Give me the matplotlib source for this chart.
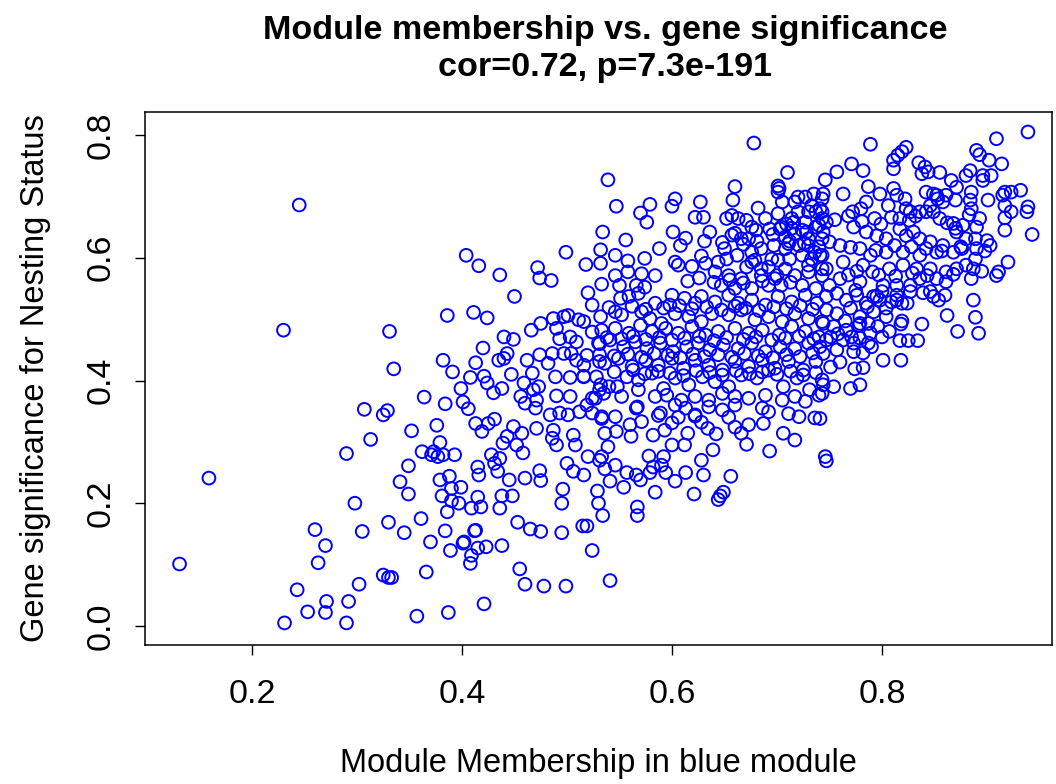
import matplotlib
matplotlib.use("Agg")
import matplotlib.pyplot as plt
import numpy as np

# Module membership (x) and gene significance (y), grouped by area of the plot
mm_low = [0.131, 0.159, 0.245, 0.230, 0.307, 0.313, 0.290, 0.298, 0.260, 0.305,
          0.270, 0.263, 0.302, 0.243, 0.271, 0.292, 0.253, 0.270, 0.231, 0.290]
gs_low = [0.101, 0.241, 0.686, 0.482, 0.353, 0.304, 0.281, 0.200, 0.157, 0.154,
          0.131, 0.103, 0.068, 0.059, 0.040, 0.040, 0.023, 0.022, 0.005, 0.005]

mm_bottom = [0.349, 0.341, 0.349, 0.330, 0.345, 0.361, 0.379, 0.388, 0.390, 0.399,
             0.381, 0.390, 0.397, 0.386, 0.409, 0.415, 0.418, 0.415, 0.416, 0.434,
             0.445, 0.438, 0.436, 0.448, 0.460, 0.474, 0.475, 0.496, 0.495, 0.453,
             0.465, 0.475, 0.495, 0.515, 0.519, 0.524, 0.384, 0.370, 0.389, 0.401,
             0.402, 0.412, 0.413, 0.415, 0.423, 0.438, 0.409, 0.408, 0.366, 0.325,
             0.330, 0.333, 0.455, 0.460, 0.478, 0.499, 0.421, 0.387, 0.357, 0.506,
             0.516]
gs_bottom = [0.261, 0.235, 0.215, 0.169, 0.152, 0.175, 0.238, 0.244, 0.224, 0.226,
             0.212, 0.204, 0.200, 0.186, 0.192, 0.210, 0.194, 0.259, 0.246, 0.252,
             0.238, 0.212, 0.192, 0.212, 0.241, 0.253, 0.237, 0.223, 0.200, 0.169,
             0.158, 0.154, 0.152, 0.163, 0.163, 0.123, 0.155, 0.137, 0.123, 0.135,
             0.137, 0.155, 0.156, 0.127, 0.129, 0.131, 0.115, 0.102, 0.088, 0.083,
             0.079, 0.079, 0.093, 0.068, 0.065, 0.065, 0.036, 0.022, 0.016, 0.252,
             0.246]

mm_mid_low = [0.541, 0.534, 0.567, 0.567, 0.530, 0.529, 0.541, 0.554, 0.557, 0.566,
              0.570, 0.579, 0.584, 0.594, 0.603, 0.613, 0.621, 0.630, 0.656, 0.644,
              0.646, 0.649, 0.536, 0.546, 0.582, 0.590, 0.747]
gs_mid_low = [0.074, 0.180, 0.194, 0.180, 0.200, 0.220, 0.236, 0.226, 0.250, 0.246,
              0.238, 0.250, 0.218, 0.250, 0.236, 0.250, 0.215, 0.246, 0.244, 0.206,
              0.212, 0.218, 0.256, 0.262, 0.259, 0.262, 0.269]

mm_core_low = [0.693, 0.746, 0.736, 0.717, 0.706, 0.687, 0.671, 0.666, 0.673, 0.639,
               0.628, 0.642, 0.634, 0.612, 0.615, 0.600, 0.592, 0.578, 0.533, 0.539,
               0.536, 0.533, 0.547, 0.561, 0.560, 0.571, 0.566, 0.582, 0.593, 0.587,
               0.606, 0.622, 0.654, 0.660, 0.628, 0.600]
gs_core_low = [0.285, 0.276, 0.339, 0.303, 0.314, 0.330, 0.296, 0.314, 0.328, 0.287,
               0.270, 0.313, 0.322, 0.295, 0.314, 0.295, 0.276, 0.277, 0.276, 0.292,
               0.314, 0.338, 0.317, 0.309, 0.328, 0.333, 0.355, 0.311, 0.319, 0.343,
               0.340, 0.342, 0.340, 0.324, 0.332, 0.331]

mm_core = [0.551, 0.559, 0.568, 0.584, 0.598, 0.600, 0.612, 0.622, 0.628, 0.641,
           0.654, 0.663, 0.676, 0.689, 0.701, 0.714, 0.727, 0.738,
           0.532, 0.546, 0.552, 0.571, 0.579, 0.590, 0.603, 0.616, 0.628, 0.638,
           0.654, 0.666, 0.679, 0.692, 0.705, 0.717, 0.730, 0.743,
           0.533, 0.546, 0.559, 0.570, 0.581, 0.594, 0.606, 0.619, 0.632, 0.644,
           0.660, 0.673, 0.686, 0.702, 0.714, 0.727, 0.740,
           0.530, 0.541, 0.554, 0.565, 0.576, 0.589, 0.601, 0.614, 0.625, 0.636,
           0.649, 0.663, 0.676, 0.689, 0.703, 0.717, 0.730,
           0.536, 0.549, 0.562, 0.575, 0.587, 0.600, 0.611, 0.622, 0.635, 0.648,
           0.660, 0.673, 0.686, 0.698, 0.711, 0.725, 0.737,
           0.532, 0.540, 0.548, 0.557, 0.568, 0.581, 0.592, 0.603, 0.616, 0.629,
           0.641, 0.654, 0.666, 0.681, 0.692, 0.706, 0.719, 0.731, 0.743,
           0.527, 0.535, 0.552, 0.568, 0.584, 0.595, 0.609, 0.622, 0.635, 0.648,
           0.660, 0.673, 0.689, 0.705, 0.717, 0.727, 0.740,
           0.533, 0.546, 0.567, 0.589, 0.603, 0.613, 0.622, 0.635, 0.648, 0.660,
           0.686, 0.692, 0.711, 0.721]
gs_core = [0.534, 0.537, 0.542, 0.526, 0.523, 0.539, 0.534, 0.526, 0.537, 0.528,
           0.539, 0.526, 0.531, 0.523, 0.537, 0.528, 0.539, 0.526,
           0.504, 0.512, 0.507, 0.512, 0.501, 0.493, 0.509, 0.504, 0.496, 0.509,
           0.507, 0.515, 0.499, 0.504, 0.496, 0.509, 0.501, 0.496,
           0.482, 0.485, 0.477, 0.490, 0.480, 0.485, 0.477, 0.488, 0.474, 0.480,
           0.485, 0.477, 0.482, 0.474, 0.488, 0.480, 0.471,
           0.461, 0.466, 0.455, 0.463, 0.452, 0.461, 0.447, 0.455, 0.461, 0.450,
           0.458, 0.452, 0.461, 0.447, 0.455, 0.452, 0.461,
           0.428, 0.436, 0.423, 0.433, 0.425, 0.436, 0.420, 0.433, 0.425, 0.417,
           0.431, 0.423, 0.433, 0.420, 0.431, 0.417, 0.431,
           0.393, 0.390, 0.390, 0.406, 0.401, 0.412, 0.387, 0.404, 0.393, 0.406,
           0.398, 0.390, 0.409, 0.404, 0.417, 0.390, 0.404, 0.385, 0.401,
           0.371, 0.379, 0.374, 0.385, 0.374, 0.376, 0.368, 0.374, 0.368, 0.379,
           0.374, 0.371, 0.376, 0.368, 0.374, 0.366, 0.376,
           0.341, 0.341, 0.357, 0.347, 0.360, 0.355, 0.344, 0.357, 0.352, 0.360,
           0.355, 0.349, 0.346, 0.341]

# second pass through the densest band of the cloud
mm_core_fill = [0.540, 0.562, 0.575, 0.592, 0.607, 0.619, 0.633, 0.647, 0.660, 0.670,
                0.683, 0.697, 0.709, 0.722, 0.734,
                0.538, 0.552, 0.563, 0.575, 0.588, 0.600, 0.612, 0.626, 0.640, 0.652,
                0.668, 0.680, 0.695, 0.708, 0.721, 0.735,
                0.531, 0.545, 0.558, 0.571, 0.583, 0.596, 0.608, 0.620, 0.631, 0.644,
                0.657, 0.669, 0.682, 0.696, 0.709, 0.722, 0.734,
                0.545, 0.563, 0.574, 0.587, 0.598, 0.611, 0.623, 0.636, 0.648, 0.661,
                0.674, 0.686, 0.700, 0.713, 0.725, 0.737]
gs_core_fill = [0.519, 0.521, 0.516, 0.518, 0.522, 0.517, 0.520, 0.515, 0.521, 0.518,
                0.514, 0.520, 0.517, 0.522, 0.516,
                0.470, 0.468, 0.472, 0.467, 0.470, 0.466, 0.469, 0.472, 0.465, 0.470,
                0.467, 0.471, 0.466, 0.469, 0.472, 0.468,
                0.442, 0.440, 0.443, 0.438, 0.444, 0.441, 0.437, 0.443, 0.439, 0.442,
                0.438, 0.444, 0.440, 0.437, 0.442, 0.439, 0.445,
                0.414, 0.417, 0.411, 0.415, 0.412, 0.408, 0.416, 0.413, 0.409, 0.416,
                0.411, 0.414, 0.410, 0.415, 0.409, 0.413]

mm_right_mid = [0.887, 0.862, 0.889, 0.872, 0.892, 0.838, 0.819, 0.818, 0.804, 0.807,
                0.817, 0.825, 0.834, 0.801, 0.818, 0.774, 0.782, 0.751, 0.754, 0.770,
                0.779, 0.744, 0.743, 0.741, 0.773, 0.782, 0.800, 0.787, 0.789, 0.779,
                0.771, 0.796, 0.787, 0.779, 0.758, 0.744, 0.747, 0.741,
                0.854, 0.849, 0.860, 0.846, 0.839, 0.827, 0.824, 0.814, 0.809, 0.819,
                0.804, 0.798, 0.792,
                0.747, 0.757, 0.766, 0.776, 0.785, 0.795, 0.814, 0.747, 0.757, 0.770,
                0.779, 0.792, 0.744, 0.754, 0.766, 0.778, 0.751, 0.763, 0.773, 0.757,
                0.760, 0.790, 0.765, 0.786, 0.800, 0.775]
gs_right_mid = [0.531, 0.506, 0.503, 0.480, 0.477, 0.492, 0.497, 0.492, 0.504, 0.480,
                0.465, 0.465, 0.465, 0.433, 0.433, 0.419, 0.421, 0.422, 0.390, 0.387,
                0.393, 0.393, 0.379, 0.338, 0.447, 0.445, 0.471, 0.461, 0.477, 0.469,
                0.471, 0.488, 0.493, 0.493, 0.476, 0.444, 0.466, 0.455,
                0.531, 0.537, 0.539, 0.545, 0.543, 0.545, 0.526, 0.531, 0.528, 0.526,
                0.518, 0.531, 0.537,
                0.537, 0.542, 0.531, 0.539, 0.526, 0.537, 0.539, 0.515, 0.509, 0.518,
                0.504, 0.512, 0.493, 0.488, 0.482, 0.490, 0.471, 0.466, 0.461, 0.450,
                0.430, 0.455, 0.497, 0.520, 0.545, 0.547]

mm_right_top = [0.939, 0.909, 0.789, 0.823, 0.819, 0.815, 0.811, 0.890, 0.893, 0.902,
                0.914, 0.771, 0.782, 0.757, 0.746, 0.811, 0.835, 0.841, 0.844, 0.838,
                0.855, 0.884, 0.880, 0.896, 0.904, 0.896, 0.866, 0.871, 0.932, 0.923,
                0.917, 0.915, 0.901, 0.885, 0.884, 0.885, 0.939, 0.938, 0.923, 0.917,
                0.917, 0.917, 0.943, 0.900, 0.903, 0.889, 0.890, 0.889, 0.920, 0.911,
                0.909, 0.887, 0.885, 0.893, 0.890, 0.877, 0.871, 0.880, 0.876, 0.870,
                0.868, 0.852, 0.853, 0.849, 0.858, 0.842, 0.846, 0.861, 0.870, 0.836,
                0.842, 0.849, 0.827, 0.822, 0.823, 0.814, 0.811, 0.806, 0.817, 0.809,
                0.787, 0.798, 0.785, 0.780, 0.772, 0.793, 0.763, 0.744, 0.743, 0.747,
                0.744]
gs_right_top = [0.805, 0.794, 0.785, 0.780, 0.773, 0.767, 0.759, 0.775, 0.768, 0.759,
                0.753, 0.753, 0.742, 0.740, 0.727, 0.745, 0.755, 0.748, 0.740, 0.737,
                0.739, 0.742, 0.734, 0.734, 0.734, 0.726, 0.726, 0.715, 0.710, 0.707,
                0.707, 0.702, 0.694, 0.707, 0.694, 0.680, 0.683, 0.675, 0.675, 0.685,
                0.665, 0.645, 0.638, 0.628, 0.620, 0.631, 0.615, 0.598, 0.593, 0.577,
                0.571, 0.582, 0.566, 0.664, 0.650, 0.653, 0.642, 0.631, 0.615, 0.648,
                0.656, 0.702, 0.696, 0.704, 0.691, 0.707, 0.685, 0.702, 0.694, 0.675,
                0.675, 0.675, 0.675, 0.696, 0.680, 0.702, 0.713, 0.685, 0.664, 0.666,
                0.716, 0.704, 0.691, 0.680, 0.675, 0.664, 0.704, 0.704, 0.675, 0.658,
                0.642]

mm_right_core = [0.773, 0.785, 0.795, 0.804, 0.817, 0.823, 0.830, 0.836, 0.846, 0.858,
                 0.868, 0.852, 0.836, 0.820, 0.804, 0.789, 0.779, 0.760, 0.750, 0.763,
                 0.782, 0.791, 0.807, 0.820, 0.833, 0.846, 0.861, 0.871, 0.880, 0.852,
                 0.836, 0.861, 0.827, 0.814, 0.801, 0.779, 0.760, 0.750, 0.747, 0.741,
                 0.755, 0.768, 0.781, 0.799, 0.826, 0.832, 0.855, 0.862, 0.883,
                 0.770, 0.794, 0.812, 0.828, 0.842, 0.857, 0.875, 0.898,
                 0.768, 0.776, 0.797, 0.813, 0.829, 0.843, 0.868, 0.895]
gs_right_core = [0.650, 0.642, 0.636, 0.631, 0.647, 0.636, 0.642, 0.631, 0.626, 0.620,
                 0.609, 0.609, 0.604, 0.609, 0.609, 0.604, 0.615, 0.620, 0.626, 0.593,
                 0.588, 0.577, 0.582, 0.588, 0.582, 0.582, 0.577, 0.582, 0.588, 0.566,
                 0.566, 0.561, 0.555, 0.555, 0.555, 0.561, 0.566, 0.555, 0.582, 0.604,
                 0.662, 0.668, 0.659, 0.655, 0.661, 0.668, 0.664, 0.657, 0.670,
                 0.617, 0.612, 0.620, 0.618, 0.615, 0.611, 0.618, 0.611,
                 0.572, 0.578, 0.572, 0.570, 0.575, 0.571, 0.573, 0.578]

mm_upper = [0.678, 0.710, 0.539, 0.660, 0.658, 0.701, 0.701, 0.702,
            0.547, 0.570, 0.579, 0.576, 0.603, 0.600, 0.627, 0.622, 0.630, 0.682,
            0.534, 0.532, 0.532, 0.533, 0.556, 0.546, 0.558, 0.574, 0.588, 0.601,
            0.613, 0.608, 0.603, 0.606, 0.619, 0.631, 0.636, 0.628, 0.632, 0.584,
            0.571, 0.558, 0.546, 0.550, 0.566, 0.574]
gs_upper = [0.787, 0.739, 0.727, 0.716, 0.694, 0.717, 0.707, 0.713,
            0.684, 0.673, 0.687, 0.658, 0.696, 0.684, 0.691, 0.666, 0.666, 0.681,
            0.642, 0.613, 0.591, 0.557, 0.629, 0.604, 0.595, 0.599, 0.615, 0.642,
            0.632, 0.620, 0.593, 0.588, 0.586, 0.627, 0.642, 0.603, 0.591, 0.571,
            0.574, 0.577, 0.571, 0.555, 0.555, 0.552]

mm_upper_core = [0.652, 0.657, 0.663, 0.671, 0.676, 0.689, 0.693, 0.701, 0.709, 0.717,
                 0.727, 0.733, 0.737, 0.743, 0.720, 0.716, 0.704, 0.708, 0.711, 0.724,
                 0.730, 0.737, 0.666, 0.673, 0.657, 0.650, 0.662, 0.676, 0.685, 0.679,
                 0.671, 0.685, 0.695, 0.701, 0.712, 0.724, 0.733, 0.743, 0.652, 0.644,
                 0.641, 0.654, 0.666, 0.685, 0.700, 0.717, 0.730, 0.743, 0.647, 0.660,
                 0.676, 0.692, 0.704, 0.724, 0.737,
                 0.705, 0.720, 0.735, 0.743, 0.730, 0.741, 0.714, 0.727, 0.740, 0.703,
                 0.717, 0.730, 0.743, 0.708, 0.721, 0.736, 0.676, 0.692, 0.708, 0.730,
                 0.743,
                 0.648, 0.668, 0.681, 0.697, 0.712, 0.726, 0.740,
                 0.660, 0.680, 0.696, 0.714, 0.728,
                 0.615, 0.626, 0.640, 0.655, 0.668, 0.686, 0.698, 0.713]
gs_upper_core = [0.664, 0.669, 0.664, 0.661, 0.650, 0.664, 0.647, 0.672, 0.655, 0.691,
                 0.699, 0.685, 0.675, 0.664, 0.675, 0.658, 0.650, 0.634, 0.623, 0.645,
                 0.631, 0.650, 0.631, 0.631, 0.637, 0.615, 0.604, 0.609, 0.615, 0.596,
                 0.585, 0.582, 0.598, 0.596, 0.598, 0.604, 0.598, 0.604, 0.598, 0.593,
                 0.577, 0.571, 0.566, 0.571, 0.571, 0.571, 0.577, 0.571, 0.555, 0.550,
                 0.550, 0.555, 0.555, 0.555, 0.550,
                 0.691, 0.699, 0.704, 0.696, 0.675, 0.680, 0.664, 0.658, 0.653, 0.647,
                 0.639, 0.620, 0.631, 0.615, 0.620, 0.609, 0.593, 0.585, 0.582, 0.588,
                 0.582,
                 0.625, 0.622, 0.627, 0.620, 0.627, 0.624, 0.618,
                 0.640, 0.645, 0.638, 0.648, 0.642,
                 0.562, 0.567, 0.560, 0.564, 0.559, 0.562, 0.566, 0.560]

mm_left_mid = [0.404, 0.416, 0.436, 0.499, 0.472, 0.474, 0.485, 0.518, 0.520, 0.450,
               0.331, 0.335, 0.386, 0.411, 0.424, 0.364, 0.384, 0.352, 0.376, 0.325,
               0.329, 0.362, 0.379, 0.371, 0.377, 0.382, 0.393, 0.373, 0.431, 0.428,
               0.436,
               0.382, 0.391, 0.408, 0.399, 0.413, 0.420, 0.421, 0.424, 0.430, 0.438,
               0.401, 0.406, 0.413, 0.419, 0.425, 0.431]
gs_left_mid = [0.604, 0.587, 0.572, 0.609, 0.584, 0.567, 0.563, 0.589, 0.543, 0.537,
               0.480, 0.419, 0.506, 0.511, 0.502, 0.373, 0.362, 0.318, 0.327, 0.344,
               0.351, 0.284, 0.299, 0.279, 0.276, 0.279, 0.279, 0.284, 0.265, 0.279,
               0.273,
               0.433, 0.414, 0.405, 0.387, 0.429, 0.453, 0.407, 0.396, 0.380, 0.387,
               0.365, 0.354, 0.330, 0.317, 0.330, 0.337]

mm_centre = [0.435, 0.440, 0.443, 0.440, 0.449, 0.447, 0.462, 0.467, 0.459, 0.456,
             0.460, 0.468, 0.473, 0.474, 0.486, 0.482, 0.497, 0.489, 0.503, 0.516,
             0.490, 0.503, 0.519, 0.524, 0.512, 0.524, 0.501, 0.493, 0.484, 0.471,
             0.470, 0.471, 0.487, 0.486, 0.490, 0.506, 0.508, 0.500, 0.520, 0.531,
             0.449, 0.457, 0.452, 0.458, 0.439, 0.443,
             0.466, 0.475, 0.487, 0.497, 0.501, 0.511, 0.516, 0.524, 0.490, 0.503,
             0.509, 0.493, 0.524, 0.531, 0.519, 0.509, 0.516, 0.504, 0.531, 0.528,
             0.531, 0.516]
gs_centre = [0.433, 0.436, 0.444, 0.471, 0.467, 0.410, 0.433, 0.412, 0.396, 0.374,
             0.363, 0.385, 0.390, 0.442, 0.444, 0.428, 0.444, 0.406, 0.405, 0.407,
             0.375, 0.374, 0.360, 0.371, 0.349, 0.347, 0.344, 0.347, 0.344, 0.368,
             0.355, 0.322, 0.319, 0.306, 0.295, 0.311, 0.295, 0.265, 0.276, 0.270,
             0.325, 0.314, 0.295, 0.282, 0.298, 0.309,
             0.482, 0.493, 0.501, 0.504, 0.506, 0.499, 0.496, 0.523, 0.485, 0.471,
             0.463, 0.468, 0.479, 0.460, 0.441, 0.433, 0.425, 0.444, 0.431, 0.406,
             0.385, 0.406]

module_membership = np.concatenate([
    mm_low, mm_bottom, mm_mid_low, mm_core_low, mm_core, mm_core_fill,
    mm_right_mid, mm_right_top, mm_right_core, mm_upper, mm_upper_core,
    mm_left_mid, mm_centre])
gene_significance = np.concatenate([
    gs_low, gs_bottom, gs_mid_low, gs_core_low, gs_core, gs_core_fill,
    gs_right_mid, gs_right_top, gs_right_core, gs_upper, gs_upper_core,
    gs_left_mid, gs_centre])

x_ticks = [0.2, 0.4, 0.6, 0.8]
y_ticks = [0.0, 0.2, 0.4, 0.6, 0.8]

plt.rcParams['font.family'] = ['Liberation Sans', 'DejaVu Sans']

fig = plt.figure(figsize=(10.56, 7.84), dpi=100)
ax = fig.add_axes([0.1373, 0.1773, 0.8590, 0.6798])

ax.scatter(module_membership, gene_significance, s=84, facecolors='none',
           edgecolors='#0000ff', linewidths=1.4)

ax.set_xlim(0.0981, 0.962)
ax.set_ylim(-0.031, 0.8375)
ax.set_xticks(x_ticks)
ax.set_yticks(y_ticks)
ax.set_xticklabels([f"{t:.1f}" for t in x_ticks])
ax.set_yticklabels([f"{t:.1f}" for t in y_ticks], rotation=90, va='center')
ax.tick_params(axis='both', direction='out', length=7.5, width=1.0,
               labelsize=24.5, colors='black')
ax.tick_params(axis='x', pad=17)
ax.tick_params(axis='y', pad=13)
for sp in ax.spines.values():
    sp.set_linewidth(1.1)
    sp.set_color('black')

ax.set_xlabel("Module Membership in blue module", fontsize=23.5, labelpad=27)
ax.set_ylabel("Gene significance for Nesting Status", fontsize=23.5, labelpad=25)
ax.set_title("Module membership vs. gene significance\ncor=0.72, p=7.3e-191",
             fontsize=24.6, fontweight='bold', pad=26, linespacing=1.25, x=0.507)

fig.savefig("out.png", dpi=100)
